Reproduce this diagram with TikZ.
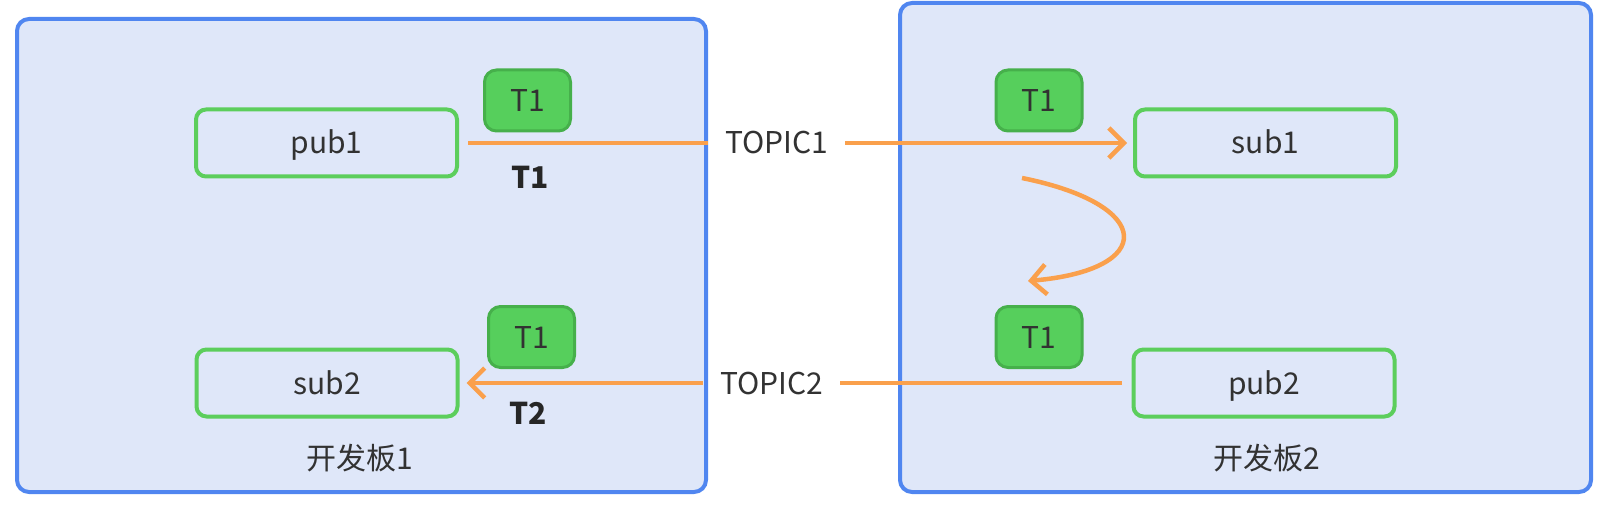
\documentclass[tikz,border=0pt]{standalone}
\usepackage{fontspec}
\setmainfont{Noto Sans CJK SC}
\usetikzlibrary{arrows.meta}
\definecolor{panelfill}{RGB}{223,231,249}
\definecolor{panelblue}{RGB}{80,134,240}
\definecolor{boxgreen}{RGB}{92,206,92}
\definecolor{taggreen}{RGB}{86,207,92}
\definecolor{tagborder}{RGB}{70,176,75}
\definecolor{orng}{RGB}{250,160,76}
\definecolor{txtc}{RGB}{50,50,50}
\newcommand\txtfont{\fontsize{30pt}{36pt}\selectfont}
\begin{document}
\begin{tikzpicture}[x=1pt,y=-1pt,
  every node/.style={font=\txtfont, text=txtc, text height=22pt, text depth=0pt},
  panel/.style={draw=panelblue, fill=panelfill, line width=4pt, rounded corners=12pt, inner sep=0pt},
  box/.style={draw=boxgreen, line width=4pt, rounded corners=10pt, minimum width=261pt, minimum height=67pt},
  tag/.style={draw=tagborder, fill=taggreen, line width=3pt, rounded corners=12pt, minimum width=86pt, minimum height=61pt},
  boldlbl/.style={font=\txtfont\bfseries, text=black!85},
  topic/.style={inner xsep=17pt, inner ysep=0pt},
  conn/.style={draw=orng, line width=4.5pt},
  arr/.style={-{Straight Barb[length=15pt,width=30pt]}}
]
\useasboundingbox (0,0) rectangle (1607,513);
% panels
\node[panel, minimum width=689pt, minimum height=473pt] (board1) at (361.5,255.5) {};
\node[panel, minimum width=691pt, minimum height=489pt] (board2) at (1245.5,247.5) {};
\node (lbl1) at (360,458) {开发板1};
\node (lbl2) at (1267,458) {开发板2};
% boxes
\node[box] (pub1) at (326.5,143) {pub1};
\node[box] (sub2) at (327,383) {sub2};
\node[box] (sub1) at (1265.5,143) {sub1};
\node[box] (pub2) at (1264,383) {pub2};
% tags
\node[tag] (tagA) at (527.5,100.5) {T1};
\node[tag] (tagB) at (531.5,337) {T1};
\node[tag] (tagC) at (1039,100.5) {T1};
\node[tag] (tagD) at (1039,337) {T1};
% bold labels
\node[boldlbl] (b1) at (530,178) {T1};
\node[boldlbl] (b2) at (528,413) {T2};
% topics
\node[topic] (topic1) at (776.5,143) {TOPIC1};
\node[topic] (topic2) at (771.5,383) {TOPIC2};
% connectors
\draw[conn, shorten <=9pt] (pub1) -- (topic1);
\draw[conn, arr, shorten >=6pt] (topic1) -- (sub1);
\draw[conn, shorten <=10pt] (pub2) -- (topic2);
\draw[conn, arr, shorten >=7pt] (topic2) -- (sub2);
\coordinate (c1) at (1022,178);
\coordinate (c2) at (1028,281);
\draw[conn, arr] (c1) .. controls (1156,205) and (1156,270) .. (c2);
\end{tikzpicture}
\end{document}
